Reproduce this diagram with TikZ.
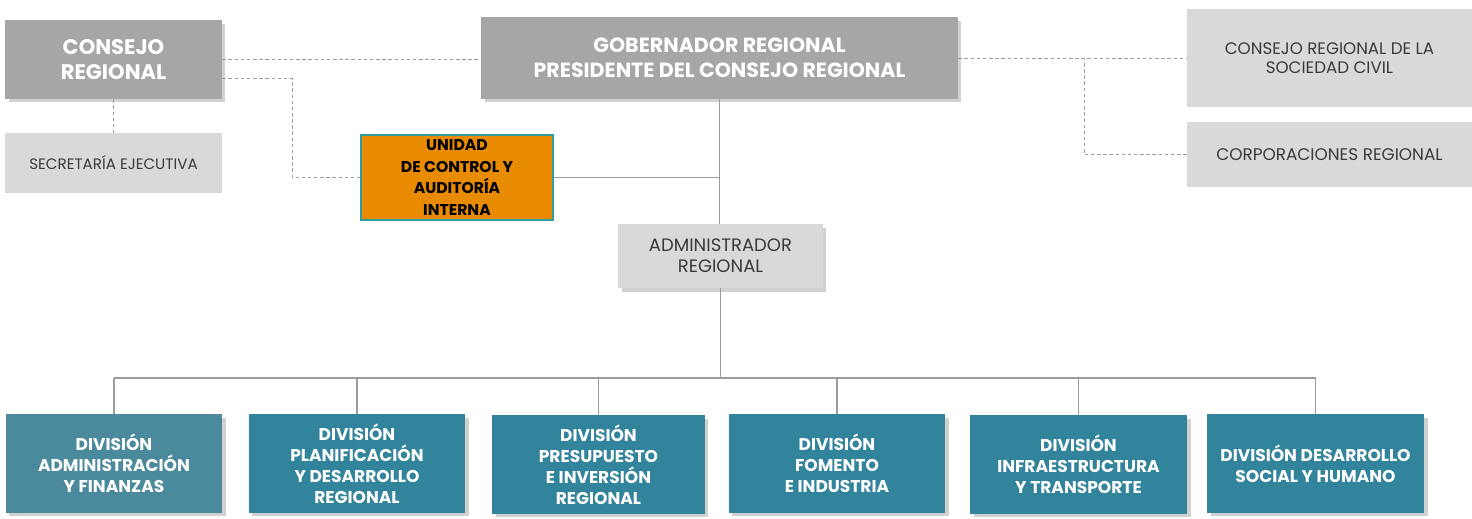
\documentclass[tikz,border=0pt]{standalone}
\usepackage{fontspec}
\setmainfont{Poppins}
\usetikzlibrary{shadows, calc}

\definecolor{headgray}{HTML}{A6A6A6}
\definecolor{lightgray}{HTML}{D9D9D9}
\definecolor{divteal}{HTML}{31849B}
\definecolor{divfirst}{HTML}{4A8A9C}
\definecolor{unitorange}{HTML}{E98B00}
\definecolor{unitedge}{HTML}{2E9E9E}
\definecolor{linegray}{HTML}{9C9C9C}
\definecolor{textgray}{HTML}{3A3A3A}

\tikzset{
    boxshadow/.style={drop shadow={shadow xshift=2pt, shadow yshift=-2pt, opacity=0.3, fill=black!60}},
    headbox/.style={rectangle, fill=headgray, text=white, align=center, inner sep=0pt, boxshadow},
    sidebox/.style={rectangle, fill=lightgray, text=textgray, align=center, inner sep=0pt},
    divbox/.style={rectangle, fill=divteal, text=white, align=center, inner sep=0pt,
        minimum width=4.34cm, minimum height=1.98cm, boxshadow,
        font=\bfseries\fontsize{9.7}{12}\selectfont},
    orgline/.style={draw=linegray, line width=0.6pt},
    dashline/.style={draw=linegray, line width=0.5pt, dash pattern=on 2pt off 1.5pt},
}

\begin{document}
\begin{tikzpicture}[x=0.02cm, y=-0.02cm]
        \useasboundingbox (0,0) rectangle (1472,519);

        % upper level
        \node[headbox, minimum width=4.34cm, minimum height=1.58cm,
            font=\bfseries\fontsize{12}{14.2}\selectfont] at (113.5,59.5) (consejo) {CONSEJO\\REGIONAL};
        \node[headbox, minimum width=9.54cm, minimum height=1.64cm,
            font=\bfseries\fontsize{11.7}{14.2}\selectfont] at (719.5,58) (gobernador) {GOBERNADOR REGIONAL\\PRESIDENTE DEL CONSEJO REGIONAL};
        \node[sidebox, minimum width=4.34cm, minimum height=1.2cm,
            font=\fontsize{8.6}{10}\selectfont] at (113.5,163) (secretaria) {SECRETARÍA EJECUTIVA};
        \node[rectangle, fill=unitorange, draw=unitedge, line width=0.8pt, align=center, inner sep=0pt,
            minimum width=3.84cm, minimum height=1.7cm,
            font=\bfseries\fontsize{8.9}{12.3}\selectfont] at (457,177.5) (unidad) {UNIDAD\\DE CONTROL Y\\AUDITORÍA\\INTERNA};
        \node[sidebox, boxshadow, minimum width=4.1cm, minimum height=1.28cm,
            font=\fontsize{10.25}{11.9}\selectfont] at (720.5,256) (admin) {ADMINISTRADOR\\REGIONAL};

        % right side
        \node[sidebox, minimum width=5.7cm, minimum height=1.96cm,
            font=\fontsize{9.5}{11}\selectfont] at (1329.5,58) (civil) {CONSEJO REGIONAL DE LA\\SOCIEDAD CIVIL};
        \node[sidebox, minimum width=5.7cm, minimum height=1.3cm,
            font=\fontsize{9.6}{11}\selectfont] at (1329.5,154.5) (corporaciones) {CORPORACIONES REGIONAL};

        % divisions
        \node[divbox, fill=divfirst] at (114,463.5) (div1) {DIVISIÓN\\ADMINISTRACIÓN\\Y FINANZAS};
        \node[divbox] at (357,463.5) (div2) {DIVISIÓN\\PLANIFICACIÓN\\Y DESARROLLO\\REGIONAL};
        \node[divbox, minimum width=4.26cm] at (598.5,464.5) (div3) {DIVISIÓN\\PRESUPUESTO\\E INVERSIÓN\\REGIONAL};
        \node[divbox] at (837,463.5) (div4) {DIVISIÓN\\FOMENTO\\E INDUSTRIA};
        \node[divbox] at (1078.5,464.5) (div5) {DIVISIÓN\\INFRAESTRUCTURA\\Y TRANSPORTE};
        \node[divbox] at (1315.5,463.5) (div6) {DIVISIÓN DESARROLLO\\SOCIAL Y HUMANO};

        \coordinate (civiljoint) at (1084,58);
        \coordinate (bus) at (720,378);

        % dashed links
        \draw[dashline] (consejo.east) -- (consejo.east -| gobernador.west)
            (consejo) -- (secretaria)
            ([yshift=-0.38cm]consejo.east) -- ++(70,0) |- (unidad.west)
            (gobernador.east) -- (civil.west)
            (corporaciones.west) -| (civiljoint);

        % solid links
        \draw[orgline] (gobernador.south) -- (gobernador.south |- admin.north)
            (unidad.east) -- (unidad.east -| gobernador.south)
            (admin.south) -- (admin.south |- bus)
            (div1.north |- bus) -- (div6.north |- bus);
        \foreach \d in {div1,div2,div3,div4,div5,div6}
            \draw[orgline] (\d.north) -- (\d.north |- bus);
    \end{tikzpicture}
\end{document}
